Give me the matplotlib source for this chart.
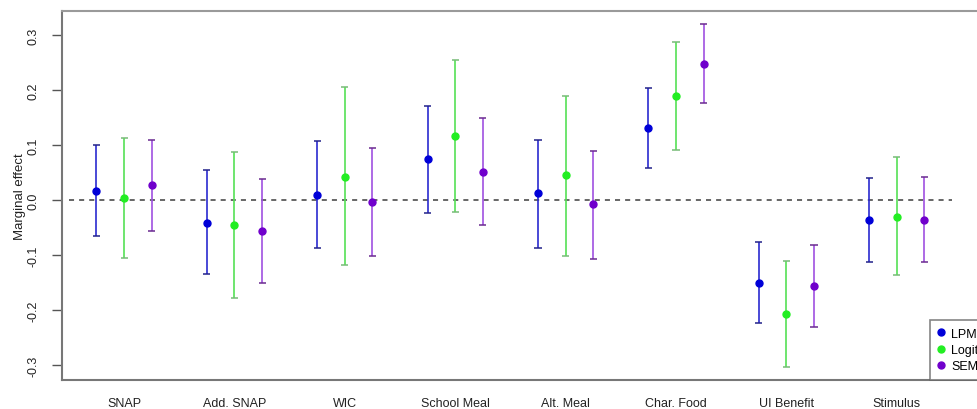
import matplotlib
matplotlib.use("Agg")
import matplotlib.pyplot as plt
from matplotlib.lines import Line2D
import numpy as np

plt.rcParams['font.family'] = ['Liberation Sans', 'DejaVu Sans']

categories = ["SNAP", "Add. SNAP", "WIC", "School Meal", "Alt. Meal",
              "Char. Food", "UI Benefit", "Stimulus"]
models = ["LPM", "Logit", "SEM"]

lpm_est = [0.017, -0.041, 0.009, 0.074, 0.012, 0.131, -0.151, -0.036]
lpm_lo = [-0.065, -0.135, -0.088, -0.024, -0.087, 0.059, -0.224, -0.113]
lpm_hi = [0.100, 0.054, 0.107, 0.171, 0.110, 0.204, -0.076, 0.040]

logit_est = [0.004, -0.046, 0.042, 0.116, 0.045, 0.189, -0.207, -0.030]
logit_lo = [-0.105, -0.178, -0.119, -0.022, -0.102, 0.091, -0.303, -0.136]
logit_hi = [0.113, 0.087, 0.205, 0.254, 0.190, 0.288, -0.111, 0.078]

sem_est = [0.028, -0.056, -0.004, 0.051, -0.008, 0.247, -0.156, -0.036]
sem_lo = [-0.056, -0.150, -0.101, -0.046, -0.107, 0.176, -0.230, -0.112]
sem_hi = [0.110, 0.038, 0.094, 0.149, 0.090, 0.320, -0.082, 0.041]

yticks = [-0.3, -0.2, -0.1, 0.0, 0.1, 0.2, 0.3]

series = [
    (lpm_est, lpm_lo, lpm_hi, "#2a2ad0", "#0000d8", "#22228a"),
    (logit_est, logit_lo, logit_hi, "#55e055", "#22ee22", "#77bb77"),
    (sem_est, sem_lo, sem_hi, "#a050e0", "#7000cc", "#6a2a90"),
]
offsets = [-0.25, 0.0, 0.25]

W, H = 978, 410
fig = plt.figure(figsize=(W / 100, H / 100), dpi=100)
left_px, right_px, top_px, bot_px = 62, 995, 12, 381
ax = fig.add_axes([left_px / W, 1 - bot_px / H,
                   (right_px - left_px) / W, (bot_px - top_px) / H])

x = np.arange(1, len(categories) + 1)
ax.plot([0.5, 8.5], [0, 0], color="#666666", lw=1.4, ls=(0, (2.6, 2.6)), zorder=1)

for (est, lo, hi, lc, pc, cc), off in zip(series, offsets):
    est = np.array(est); lo = np.array(lo); hi = np.array(hi)
    xs = x + off
    ax.vlines(xs, lo, hi, color=lc, lw=1.2, zorder=2)
    ax.hlines(lo, xs - 0.032, xs + 0.032, color=cc, lw=1.1, zorder=2)
    ax.hlines(hi, xs - 0.032, xs + 0.032, color=cc, lw=1.1, zorder=2)
    ax.plot(xs, est, 'o', color=pc, ms=5.0, zorder=3)

ax.set_xlim(0.438, 1 + (right_px - 124) / 110.4)
ax.set_ylim((201 - bot_px) / 550, (201 - top_px) / 550)

ax.set_xticks(x)
ax.set_xticklabels(categories, fontsize=9, color="#222222")
ax.tick_params(axis='x', length=0, pad=12)
ax.set_yticks(yticks)
ax.set_yticklabels([f"{v:.1f}" for v in yticks], rotation=90, va='center',
                   fontsize=9, color="#222222")
ax.tick_params(axis='y', length=7, width=1.0, color="#555555", pad=9)
ax.set_ylabel("Marginal effect", fontsize=9.5, color="#222222", labelpad=1.5)

for side in ["left", "bottom", "top", "right"]:
    ax.spines[side].set_color("#777777")
    ax.spines[side].set_linewidth(1.5)
ax.spines["top"].set_color("#9a9a9a")

handles = [Line2D([], [], ls='none', marker='o', ms=5, color=s[4]) for s in series]
leg = ax.legend(handles, models, loc='lower left',
                bbox_to_anchor=(930 / W, 1 - bot_px / H), bbox_transform=fig.transFigure,
                borderaxespad=0, fontsize=9, frameon=True, fancybox=False,
                handlelength=0.6, handletextpad=0.5, borderpad=0.6,
                labelspacing=0.35)
leg.get_frame().set_edgecolor("#666666")
leg.get_frame().set_linewidth(1.2)

fig.savefig("out.png", dpi=100)
